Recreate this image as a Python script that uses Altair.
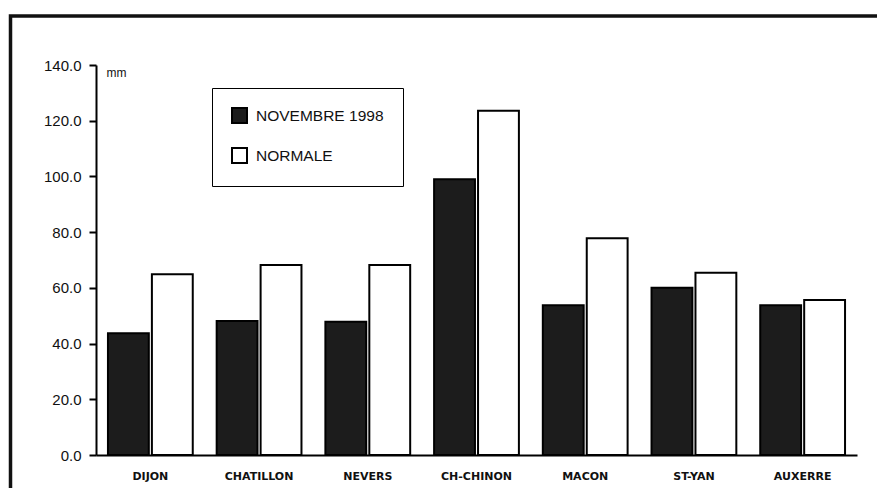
import altair as alt
import pandas as pd

stations = ["DIJON", "CHATILLON", "NEVERS", "CH-CHINON", "MACON", "ST-YAN", "AUXERRE"]
nov98 = [43.7, 48.1, 47.8, 99.0, 53.8, 60.0, 53.8]
normale = [64.9, 68.2, 68.2, 123.6, 77.8, 65.4, 55.6]
series = ["NOVEMBRE 1998", "NORMALE"]
y_ticks = [0, 20, 40, 60, 80, 100, 120, 140]

rows = []
for s, a, b in zip(stations, nov98, normale):
    rows.append({"station": s, "serie": series[0], "val": a})
    rows.append({"station": s, "serie": series[1], "val": b})
df = pd.DataFrame(rows)

bars = alt.Chart(df).mark_bar(stroke="black", strokeWidth=2).encode(
    x=alt.X("station:N", sort=stations, title=None,
            scale=alt.Scale(paddingInner=0.22, paddingOuter=0.11),
            axis=alt.Axis(labelAngle=0, ticks=False, domainColor="black", domainWidth=2,
                          labelFont="DejaVu Sans", labelFontWeight="bold", labelFontSize=11,
                          labelColor="#111", labelPadding=15)),
    xOffset=alt.XOffset("serie:N", sort=series, scale=alt.Scale(domain=series, paddingInner=0.07)),
    y=alt.Y("val:Q", scale=alt.Scale(domain=[0, 140], nice=False),
            axis=alt.Axis(values=y_ticks, format=".1f", title="mm", titleAngle=0,
                          titleX=10, titleY=11, titleAlign="left", titleBaseline="alphabetic",
                          titleFont="Liberation Sans", titleFontSize=12, titleFontWeight="normal",
                          titleColor="#111",
                          labelFont="Liberation Sans", labelFontSize=15, labelColor="#111",
                          labelPadding=8, tickSize=7, tickWidth=2, tickColor="black",
                          domainColor="black", domainWidth=2, grid=False)),
    fill=alt.Fill("serie:N", title=None,
                  scale=alt.Scale(domain=series, range=["#1c1c1c", "white"]),
                  legend=alt.Legend(orient="none", legendX=116, legendY=23,
                                    padding=19, rowPadding=17, strokeColor="black",
                                    fillColor="white",
                                    symbolType="square", symbolSize=225,
                                    symbolStrokeColor="black", symbolStrokeWidth=2,
                                    labelFont="Liberation Sans", labelFontSize=15.5,
                                    labelColor="#111", labelOffset=8)),
)

frame = alt.Chart(pd.DataFrame({"a": [0]})).mark_rect(
    filled=False, stroke="#111", strokeWidth=3.5
).encode(
    x=alt.value(-85.5), x2=alt.value(790), y=alt.value(-49), y2=alt.value(440)
)

chart = alt.layer(bars, frame).properties(
    width=761, height=390,
    autosize=alt.AutoSizeParams(type="none"),
    padding={"left": 88, "top": 57, "right": 20, "bottom": 33},
    background="white",
).configure_view(strokeWidth=0)

chart.save("out.html", embed_options={"renderer": "svg", "actions": False})
